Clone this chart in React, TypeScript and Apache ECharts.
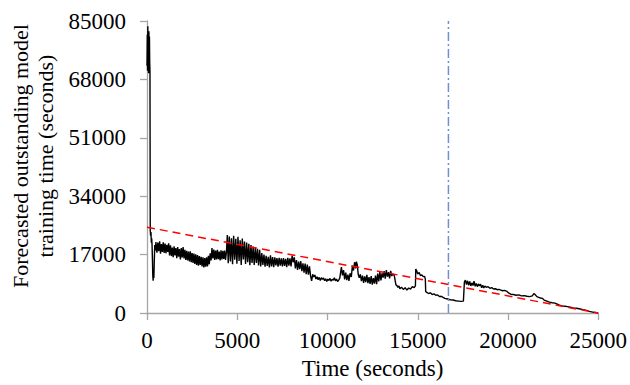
import React, { useEffect, useRef } from "react";
import * as echarts from "echarts";

// Time axis (seconds) and forecasted outstanding training time (seconds)
const timeSec: number[] = [
  0, 15, 30, 45, 60, 75, 90, 105, 120, 135, 150, 165,
  180, 200, 220, 240, 260, 280, 300, 320, 340, 360, 380, 400, 430, 460,
  495, 550, 600, 650, 700, 750, 800, 850, 900, 950, 1000, 1050, 1100, 1150, 1200, 1250,
  1300, 1350, 1400, 1450, 1500, 1550, 1600, 1650, 1700, 1750, 1800, 1850, 1900, 1950,
  2000, 2050, 2100, 2150, 2200, 2250, 2300, 2350, 2400, 2450, 2500, 2550, 2600, 2650,
  2700, 2750, 2800, 2850, 2900, 2950, 3000, 3050, 3100, 3150, 3200, 3250, 3300, 3350,
  3400, 3450, 3500, 3550, 3600, 3650, 3700, 3750, 3800, 3850, 3900, 3950, 4000, 4050,
  4100, 4150, 4200, 4250, 4300, 4350, 4400,
  4450, 4500, 4560, 4620, 4680, 4740, 4800, 4860, 4920, 4980, 5040, 5100, 5160, 5220,
  5280, 5340, 5400, 5460, 5520, 5580, 5640, 5700, 5760, 5820, 5880, 5940, 6000, 6060,
  6120, 6180, 6240, 6300, 6360, 6420, 6480, 6540,
  6600, 6660, 6720, 6780, 6840, 6900, 6960, 7020, 7080, 7140, 7200, 7260, 7320, 7380,
  7440, 7500, 7560, 7620, 7680, 7740, 7800, 7860, 7920, 7980, 8040, 8100, 8160, 8220,
  8280, 8340, 8400, 8460, 8520, 8580, 8640, 8700, 8760, 8820, 8880, 8940, 9000, 9060,
  9120, 9180, 9240, 9300, 9360, 9420, 9480, 9540, 9600, 9660, 9720, 9780, 9840, 9900,
  9960, 10020, 10080, 10140, 10200, 10260, 10320, 10380, 10440, 10500, 10560, 10620, 10680,
  10770, 10830, 10890, 10950, 11010, 11070, 11130, 11190, 11250, 11319, 11380, 11440, 11500,
  11560, 11600, 11650, 11704, 11760, 11820, 11880, 11940, 12000, 12060, 12120, 12180, 12240,
  12300, 12360, 12420, 12480, 12540, 12600, 12660, 12720, 12780, 12840, 12900, 12960, 13020,
  13080, 13140, 13200, 13260, 13320, 13380, 13440, 13500, 13560, 13620, 13700,
  13792, 13850, 13900, 13960, 14011, 14100, 14200, 14300, 14400, 14500, 14600, 14700, 14800, 14870,
  14890, 14950, 15000, 15080, 15150, 15230, 15300, 15380, 15420,
  15440, 15500, 15600, 15700, 15800, 15900, 16000, 16100, 16200, 16300, 16400, 16500, 16650,
  16800, 16950, 17100, 17250, 17400, 17530,
  17583, 17640, 17700, 17760, 17820, 17880, 17940, 18000, 18060, 18120, 18180, 18240, 18300,
  18360, 18420, 18480, 18540, 18600, 18660, 18720, 18800, 18900, 19000, 19100, 19200, 19300,
  19400, 19500, 19600, 19700, 19800, 19946,
  20050, 20150, 20300, 20450, 20600, 20750, 20900, 21050, 21200, 21350, 21430, 21500, 21600,
  21700, 21800, 21900, 22000, 22150, 22300, 22450, 22600, 22700, 22850, 23000, 23150, 23300,
  23450, 23600, 23800, 24000, 24150, 24350, 24500, 24700, 24900, 25000,
];

const forecast: number[] = [
  72000, 81000, 70500, 83500, 74000, 79000, 69800, 82000, 71500, 80500, 73000, 70000,
  24000, 22500, 23600, 20500, 21800, 19800, 16000, 11000, 9400, 12500, 10200, 14500, 19800, 18200,
  20700, 17600, 20500, 18000, 20900, 17300, 20100, 17800, 20600, 17500, 20200, 17400, 19900, 17800, 20300, 16800,
  19700, 16600, 19100, 16300, 19400, 16800, 18900, 16000, 19200, 16400, 18600, 15600, 18900, 16200,
  19200, 15900, 18400, 15500, 18100, 15300, 17900, 15000, 18000, 14800, 17500, 14600, 17300, 14300,
  17100, 14000, 16900, 13800, 16600, 14000, 16400, 13600, 16200, 13300, 16000, 13500, 16200, 13600,
  16700, 14200, 17400, 15300, 18900, 15900, 18500, 15500, 18200, 15600, 18400, 15700, 17900, 15300,
  18300, 15600, 18100, 15800, 18200, 15500, 17700,
  22700, 14500, 22300, 15000, 21800, 14200, 22500, 15500, 21600, 14400, 22200, 15200, 21200, 14000,
  21700, 15600, 20800, 14300, 20500, 14800, 20200, 13900, 19800, 14600, 19400, 14000, 19000, 14600,
  18700, 13900, 18400, 13600, 17500, 14000, 17000, 13500,
  16700, 13700, 16400, 13300, 16800, 13600, 16300, 13400, 16200, 13900, 16000, 13500, 16100, 13800,
  15900, 13600, 16000, 13700, 15800, 13400, 16100, 13800, 15900, 13600, 16700, 14800, 16200, 13000,
  15400, 12600, 15000, 12800, 15100, 12200, 14500, 11800, 14400, 11300, 14100, 11200, 13600, 10900,
  9400, 11300, 10500, 11100, 9900, 10600, 9700, 10400, 9500, 10300, 9800, 10200, 9400, 10000,
  9200, 9900, 9500, 10100, 9300, 9800, 9600, 10300, 9400, 9900, 9200, 9600, 10200,
  13400, 11000, 12500, 9800, 11800, 9600, 11200, 9400, 11600, 10500, 13800, 12400, 14800,
  13000, 15000, 14000, 11200, 10300, 11300, 9300, 10900, 8800, 10700, 9000, 11100, 8700,
  10500, 8500, 10800, 8300, 10200, 8600, 10900, 8400, 11500, 9200, 12000, 9500, 11600,
  10300, 12200, 10000, 12500, 10600, 11900, 10100, 12300, 10800, 11400, 10900,
  8200, 8000, 7500, 7900, 7100, 7500, 6900, 7400, 6700, 7300, 7000, 7700, 7400, 7900,
  12800, 12200, 11400, 11800, 10900, 11100, 10600, 10700, 9900,
  6300, 6000, 5700, 5900, 5400, 5600, 5200, 5300, 4800, 4900, 4600, 4300, 4100,
  3900, 3800, 3600, 3500, 3400, 3500,
  9000, 9600, 8300, 9400, 8100, 9200, 7900, 8800, 8000, 9300, 7800, 8600, 7700,
  8500, 7900, 8400, 7400, 8100, 7300, 7900, 7500, 7700, 7200, 7400, 7000, 7100,
  6800, 6900, 6700, 6500, 6600, 6300,
  5800, 5500, 5400, 5200, 5300, 5000, 5100, 4900, 4800, 5000, 5700, 5400, 4800,
  4600, 4400, 4300, 3800, 3500, 3200, 3000, 2900, 2700, 2300, 2100, 2000, 1900,
  1700, 1500, 1400, 1200, 1000, 800, 500, 300, 100, 0,
];

// Linear reference (red dashed) and marker time (blue dash-dot)
const trendTime: number[] = [0, 25000];
const trendValue: number[] = [25000, 0];
const markerTime = 16700;
const markerRange: number[] = [0, 85000];

const xTicks = { min: 0, max: 25000, interval: 5000 };
const yTicks = { min: 0, max: 85000, interval: 17000 };

const FONT = "serif";

export default function App() {
  const ref = useRef<HTMLDivElement>(null);
  useEffect(() => {
    if (!ref.current) return;
    const chart = echarts.init(ref.current, null, { renderer: "svg" });
    const mainData = timeSec.map((t, i) => [t, forecast[i]]);
    const trendData = trendTime.map((t, i) => [t, trendValue[i]]);
    const markerData = markerRange.map((v) => [markerTime, v]);
    const plain = (v: number) => String(v);
    chart.setOption({
      animation: false,
      grid: { left: 147, right: 31, top: 21, bottom: 65 },
      xAxis: {
        type: "value",
        min: xTicks.min,
        max: xTicks.max,
        interval: xTicks.interval,
        name: "Time (seconds)",
        nameLocation: "middle",
        nameGap: 41,
        nameTextStyle: { fontFamily: FONT, fontSize: 23, color: "#000" },
        axisLine: { show: true, lineStyle: { color: "#a6a6a6", width: 1.3 } },
        axisTick: { show: true, inside: false, length: 7, lineStyle: { color: "#a6a6a6", width: 1.3 } },
        axisLabel: { fontFamily: FONT, fontSize: 23, color: "#000", margin: 16, formatter: plain },
        splitLine: { show: false },
      },
      yAxis: {
        type: "value",
        min: yTicks.min,
        max: yTicks.max,
        interval: yTicks.interval,
        axisLine: { show: true, lineStyle: { color: "#a6a6a6", width: 1.3 } },
        axisTick: { show: true, inside: false, length: 7, lineStyle: { color: "#a6a6a6", width: 1.3 } },
        axisLabel: { fontFamily: FONT, fontSize: 23, color: "#000", margin: 21, formatter: plain },
        splitLine: { show: false },
      },
      graphic: [
        {
          type: "text",
          x: 33,
          y: 156,
          rotation: Math.PI / 2,
          style: {
            text: "Forecasted outstanding model\ntraining time (seconds)",
            fontFamily: FONT,
            fontSize: 22,
            lineHeight: 25,
            fill: "#000",
            align: "center",
            verticalAlign: "middle",
          },
        },
      ],
      series: [
        {
          type: "line",
          data: mainData,
          showSymbol: false,
          symbol: "none",
          lineStyle: { color: "#000", width: 1.4 },
          z: 2,
        },
        {
          type: "line",
          data: trendData,
          showSymbol: false,
          symbol: "none",
          lineStyle: { color: "#ff0000", width: 1.5, type: [8, 5] },
          z: 3,
        },
        {
          type: "line",
          data: markerData,
          showSymbol: false,
          symbol: "none",
          lineStyle: { color: "#6f8fd3", width: 1.5, type: [9, 3, 2, 3] },
          z: 4,
        },
      ],
    });
    return () => chart.dispose();
  }, []);
  return <div ref={ref} style={{ width: 630, height: 385, position: "absolute", left: 0, top: 0 }} />;
}
